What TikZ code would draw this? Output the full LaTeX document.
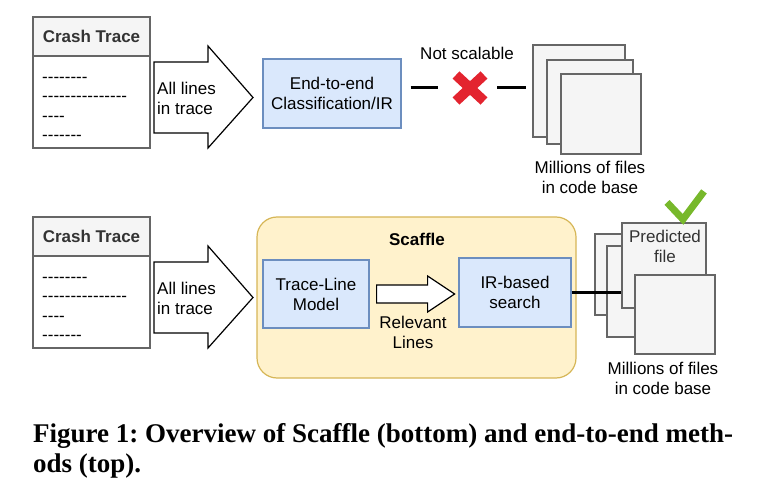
\documentclass[tikz,border=0pt]{standalone}
\usepackage{fontspec}
\setmainfont{Liberation Sans}
\newfontfamily\captionserif{Liberation Serif}
\usetikzlibrary{positioning}
\definecolor{boxblue}{HTML}{DAE8FC}
\definecolor{lineblue}{HTML}{6C8EBF}
\definecolor{boxyellow}{HTML}{FFF2CC}
\definecolor{lineyellow}{HTML}{D6B656}
\definecolor{boxgray}{HTML}{F5F5F5}
\definecolor{linegray}{HTML}{666666}
\definecolor{textgray}{HTML}{333333}
\definecolor{crossred}{HTML}{E3242F}
\definecolor{tickgreen}{HTML}{77B82B}
\newcommand{\hyphens}[1]{\foreach \k in {1,...,#1}{-\kern0pt}}

\begin{document}
\frenchspacing
\begin{tikzpicture}[
    x=1pt, y=-1pt,
    txt/.style={font=\fontsize{17}{20}\selectfont, align=center, inner sep=0pt},
    bluebox/.style={rectangle, draw=lineblue, fill=boxblue, line width=1.2pt, txt},
    filebox/.style={rectangle, draw=linegray, fill=boxgray, line width=1.2pt},
    tracehead/.style={rectangle, draw=linegray, fill=boxgray, line width=1.2pt, minimum width=117, minimum height=39, font=\fontsize{17}{20}\selectfont\bfseries, text=textgray},
    tracebody/.style={rectangle, draw=linegray, fill=white, line width=1.2pt, minimum width=117, minimum height=92},
    tracelines/.style={font=\fontsize{17}{19.4}\selectfont, align=left, inner sep=0pt, anchor=west},
    bigarrow/.style={draw=black, fill=white, line width=1.2pt, line join=miter},
    stub/.style={draw=black, line width=3pt},
    crossarm/.style={draw=crossred, line width=10pt},
    caption/.style={font=\captionserif\bfseries\fontsize{27}{29.5}\selectfont, align=left, inner sep=0pt, anchor=base west}
    ]
    \useasboundingbox (0,0) rectangle (757,494);

    % top row: end-to-end
    \node[tracehead] (trace1head) at (91.5,36.5) {Crash Trace};
    \node[tracebody] (trace1body) at (91.5,102) {};
    \node[tracelines] (trace1lines) at (42,109) {\hyphens{8}\\\hyphens{15}\\\hyphens{4}\\\hyphens{7}};

    \draw[bigarrow, shift={(154,97.5)}] (0,-35.5) -- (54,-35.5) -- (54,-51.5) -- (99,0) -- (54,50.5) -- (54,35.5) -- (0,35.5) -- cycle;
    \node[txt, align=left, anchor=west] (all1) at (157,98) {All lines\\in trace};

    \node[bluebox, minimum width=138, minimum height=69] (e2e) at (332,93.5) {End-to-end\\Classification/IR};

    \node[minimum size=38] (cross) at (470,88) {};
    \draw[crossarm] ([shift={(-14,-13)}]cross.center) -- ([shift={(14,13)}]cross.center);
    \draw[crossarm] ([shift={(-14,13)}]cross.center) -- ([shift={(14,-13)}]cross.center);
    \node[txt] (notscal) at (467,53) {Not scalable};

    \node[filebox, minimum width=92, minimum height=92] (files1a) at (579,91) {};
    \node[filebox, minimum width=86, minimum height=84] (files1b) at (590,102) {};
    \node[filebox, minimum width=80, minimum height=80] (files1c) at (601,114) {};
    \node[txt] (mill1) at (590,177.5) {Millions of files\\in code base};

    \draw[stub, shorten <=9pt, shorten >=13pt] (e2e.east |- cross) -- (cross.west);
    \draw[stub, shorten <=8pt, shorten >=6pt] (cross.east) -- (cross -| files1a.west);

    % bottom row: Scaffle
    \node[tracehead] (trace2head) at (91.5,236.5) {Crash Trace};
    \node[tracebody] (trace2body) at (91.5,302) {};
    \node[tracelines] (trace2lines) at (42,309) {\hyphens{8}\\\hyphens{15}\\\hyphens{4}\\\hyphens{7}};

    \draw[bigarrow, shift={(154,297.5)}] (0,-35.5) -- (54,-35.5) -- (54,-51.5) -- (99,0) -- (54,50.5) -- (54,35.5) -- (0,35.5) -- cycle;
    \node[txt, align=left, anchor=west] (all2) at (157,298) {All lines\\in trace};

    \node[rectangle, rounded corners=20pt, draw=lineyellow, fill=boxyellow, line width=1.2pt, minimum width=319, minimum height=161] (scaffle) at (416.5,297.5) {};
    \node[txt, font=\fontsize{17}{20}\selectfont\bfseries] (scafftitle) at (417,239) {Scaffle};

    \node[bluebox, minimum width=106, minimum height=68] (tlm) at (316,294) {Trace-Line\\Model};
    \node[bluebox, minimum width=112, minimum height=69] (irs) at (515,292.5) {IR-based\\search};
    \draw[bigarrow, shift={([xshift=7pt]tlm.east)}] (0,-9) -- (51,-9) -- (51,-18) -- (78,0) -- (51,18) -- (51,9) -- (0,9) -- cycle;
    \node[txt] (relev) at (413,332.5) {Relevant\\Lines};

    \node[filebox, minimum width=84, minimum height=81] (files2a) at (637,274.5) {};
    \node[filebox, minimum width=84, minimum height=91] (files2b) at (649,291.5) {};
    \node[filebox, minimum width=84, minimum height=85] (pred) at (664,265.5) {};
    \node[txt, text=textgray] (predtxt) at (665,246.5) {Predicted\\file};
    \node[filebox, minimum width=80, minimum height=79] (files2c) at (675,314.5) {};
    \draw[draw=tickgreen, line width=7pt] ([shift={(3,-20)}]pred.north) -- ([shift={(19,-3)}]pred.north) -- ([shift={(40,-31)}]pred.north);
    \node[txt] (mill2) at (663,378) {Millions of files\\in code base};

    \draw[stub] (irs.east) -- (irs.east -| pred.west);

    \node[caption] (cap) at (33,472) {Figure 1: Overview of Scaffle (bottom) and end-to-end meth-\\ods (top).};
\end{tikzpicture}
\end{document}
